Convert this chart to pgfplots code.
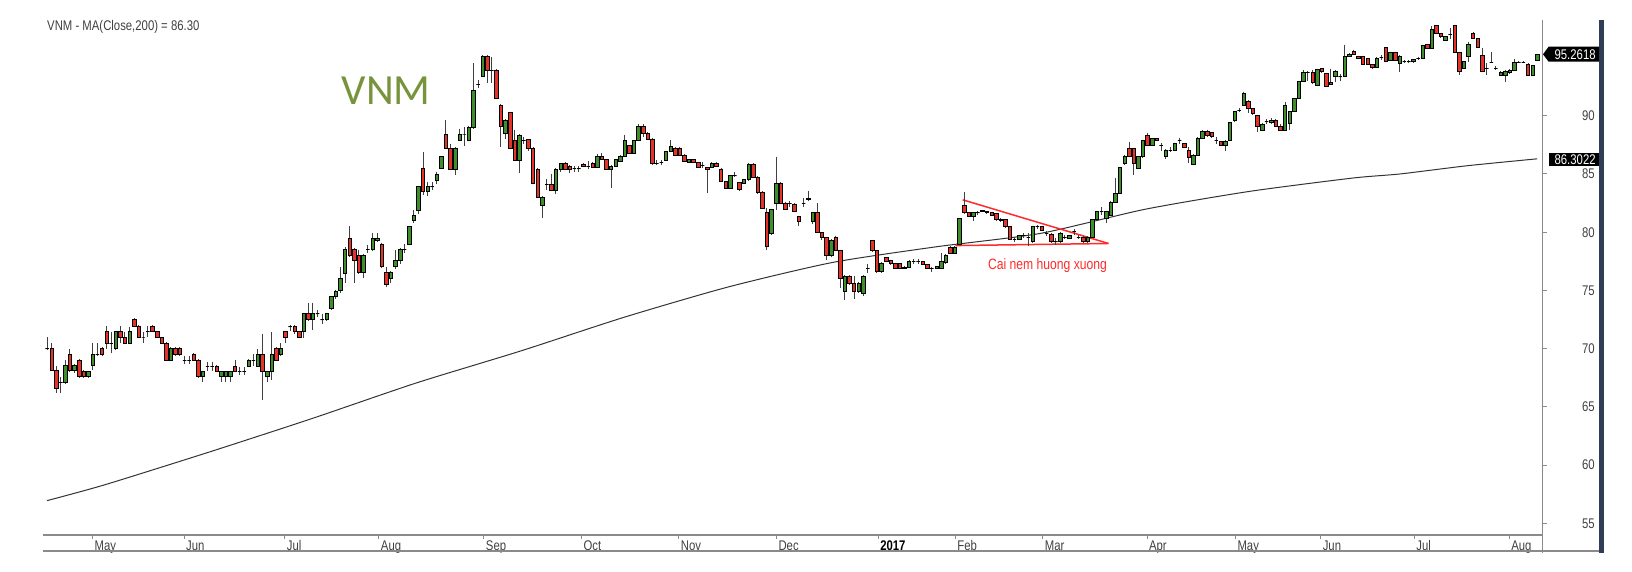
\documentclass[border=0pt]{standalone}
\usepackage{fontspec}
\setmainfont{Liberation Sans}
\newfontfamily\narrowfont[FakeStretch=0.81]{Liberation Sans}
\newfontfamily\calfont{Carlito}
\usepackage{pgfplots}
\usepackage{pgfplotstable}
\pgfplotsset{compat=1.18}

\definecolor{candleup}{HTML}{3E8E2C}
\definecolor{candledn}{HTML}{E5332A}
\definecolor{vnmgreen}{HTML}{77933C}
\definecolor{navybar}{HTML}{2F3D56}
\definecolor{axisgray}{HTML}{8A8A8A}
\definecolor{labelgray}{HTML}{404040}
\definecolor{wedgered}{HTML}{FF2B2B}

\pgfdeclareplotmark{blank}{}

% daily candles: i = trading day, o h l c
\pgfplotstableread{
i o h l c
0 70.0 71.0 69.9 70.0
1 70.0 70.45 68.1 68.1
2 68.1 68.5 66.2 66.6
3 67.15 67.6 66.2 67.15
4 67.07 69.0 67.0 68.6
5 69.5 69.95 68.0 68.1
6 68.1 68.7 67.9 68.6
7 69.0 69.1 67.5 67.6
8 68.08 68.2 67.5 67.6
9 67.6 68.1 67.5 68.08
10 68.6 70.45 68.15 69.5
11 69.5 70.45 69.4 69.5
12 70.0 70.1 69.4 69.5
13 71.45 71.94 70.0 70.45
14 70.45 71.45 69.6 70.45
15 70.0 71.5 69.9 71.45
16 71.45 71.94 70.5 70.97
17 70.97 71.4 70.4 70.5
18 70.5 71.9 70.4 71.45
19 72.5 72.6 71.9 71.94
20 71.94 72.0 70.9 70.97
21 71.0 71.45 70.5 71.0
22 71.45 71.94 70.97 71.45
23 71.94 72.0 71.4 71.45
24 71.45 71.5 70.9 70.97
25 70.97 71.0 70.4 70.5
26 70.5 70.6 68.9 69.0
27 69.0 70.1 68.9 70.0
28 70.0 70.1 69.4 69.5
29 70.0 70.1 69.4 69.5
30 69.0 69.4 68.7 69.0
31 69.0 69.4 68.7 69.0
32 69.5 69.6 68.9 69.0
33 69.0 69.1 67.5 67.6
34 67.6 68.1 67.15 68.05
35 68.5 68.85 68.1 68.5
36 68.5 68.85 68.1 68.5
37 68.5 68.6 68.0 68.05
38 67.6 68.1 67.15 68.05
39 67.6 68.1 67.15 68.05
40 67.6 68.1 67.15 68.05
41 68.5 69.0 68.0 68.05
42 68.05 68.4 67.7 68.05
43 68.05 68.4 67.7 68.05
44 68.5 69.1 68.4 69.0
45 69.0 69.5 68.5 69.0
46 68.5 70.0 68.4 69.5
47 69.5 71.3 65.6 68.05
48 67.6 68.1 67.15 68.05
49 68.05 71.45 67.3 69.5
50 70.0 70.1 68.9 69.0
51 69.5 70.45 69.4 70.0
52 71.45 71.45 70.5 70.97
53 71.9 72.0 71.5 71.9
54 71.9 72.0 71.3 71.45
55 71.45 71.5 70.9 71.0
56 71.45 73.1 70.9 73.03
57 73.03 73.9 72.4 72.52
58 72.5 73.9 71.6 73.0
59 73.0 73.3 72.7 73.0
60 72.5 73.0 72.1 72.5
61 72.5 73.1 72.4 73.0
62 73.46 74.5 73.3 74.46
63 74.46 75.0 74.3 74.9
64 75.0 77.0 74.8 76.05
65 76.5 78.7 75.6 78.5
66 79.5 80.5 77.9 78.0
67 78.5 78.6 75.6 77.55
68 78.04 78.5 76.4 76.52
69 76.52 78.1 76.04 78.04
70 78.53 78.9 78.2 78.53
71 78.53 79.95 78.4 79.47
72 79.3 79.95 79.2 79.47
73 78.98 79.1 76.9 77.03
74 76.52 77.0 75.3 75.55
75 76.05 76.7 75.6 76.52
76 77.03 78.47 76.8 77.55
77 77.55 78.6 77.3 78.53
78 78.53 78.98 78.2 78.53
79 78.98 80.5 78.9 80.47
80 81.04 81.9 80.8 81.47
81 81.9 83.9 81.6 83.9
82 85.48 86.9 83.2 83.47
83 83.47 84.3 83.1 83.9
84 83.9 84.3 83.6 83.9
85 84.48 85.2 84.1 85.0
86 85.48 86.5 85.4 86.48
87 88.43 89.63 87.1 87.2
88 87.2 87.6 85.3 85.4
89 85.4 87.3 84.9 87.2
90 87.92 88.9 87.8 88.43
91 88.43 89.0 87.4 88.43
92 87.92 89.1 87.8 89.0
93 89.0 94.5 88.9 92.17
94 92.7 93.05 92.4 92.7
95 93.35 95.2 93.3 95.1
96 95.1 95.2 92.8 93.9
97 93.9 95.0 92.8 93.9
98 93.9 94.0 91.4 91.5
99 90.92 91.0 87.35 89.05
100 88.48 89.7 88.0 89.63
101 90.26 90.3 87.1 87.2
102 87.92 88.8 86.1 86.2
103 86.2 88.4 85.05 88.35
104 87.9 88.2 87.6 87.9
105 87.95 88.0 87.0 87.2
106 87.2 87.3 84.1 84.2
107 85.4 85.5 82.9 83.0
108 82.33 83.1 81.19 83.0
109 84.13 84.6 83.6 84.13
110 84.13 85.0 83.5 83.6
111 83.6 85.5 83.3 85.4
112 85.4 85.95 85.2 85.9
113 85.9 86.0 85.3 85.4
114 85.7 85.8 85.1 85.4
115 85.45 85.7 85.2 85.45
116 85.45 85.7 85.2 85.45
117 85.85 85.9 85.6 85.65
118 85.65 86.1 85.4 85.65
119 85.9 86.0 85.5 85.6
120 85.6 86.7 85.5 86.55
121 86.55 86.8 86.2 86.25
122 86.25 86.3 85.3 85.4
123 85.4 85.8 83.77 85.7
124 85.7 86.3 85.6 86.25
125 86.1 86.6 86.0 86.55
126 86.55 88.34 86.5 87.85
127 87.48 87.5 86.7 86.77
128 86.77 87.9 86.7 87.85
129 87.85 89.29 87.8 89.1
130 89.1 89.29 88.2 88.5
131 88.5 88.6 87.9 88.0
132 88.0 88.1 85.8 85.9
133 85.9 86.2 85.75 85.9
134 86.0 86.2 85.8 86.0
135 86.2 86.95 86.1 86.92
136 86.92 87.92 86.9 87.4
137 87.2 87.3 86.6 86.63
138 87.2 87.3 86.6 86.63
139 86.63 86.7 86.0 86.1
140 85.97 86.3 85.9 86.25
141 86.25 86.3 85.9 85.97
142 85.97 86.0 85.5 85.55
143 85.75 86.0 85.5 85.75
144 85.55 85.6 83.4 85.4
145 85.6 86.0 85.5 85.9
146 85.9 86.0 85.6 85.65
147 85.4 85.5 84.3 84.35
148 84.35 84.4 83.7 83.77
149 83.77 84.9 83.7 84.85
150 84.85 85.2 84.7 84.85
151 84.25 84.3 83.5 83.68
152 84.2 84.6 84.1 84.5
153 84.5 85.9 84.4 85.85
154 85.85 85.9 84.7 84.75
155 84.75 84.8 83.3 83.4
156 83.4 83.5 82.0 82.05
157 81.75 82.05 78.47 78.75
158 79.9 82.0 79.8 81.96
159 82.48 86.48 81.9 84.2
160 84.2 84.3 82.4 82.48
161 82.48 82.6 81.9 81.96
162 82.5 82.7 82.2 82.5
163 82.4 82.5 81.7 81.76
164 81.33 81.35 80.5 80.9
165 82.5 82.95 82.2 82.5
166 82.85 83.5 82.7 82.9
167 80.9 81.7 80.7 81.67
168 81.67 82.48 79.9 79.95
169 79.95 80.0 79.3 79.6
170 79.6 79.6 77.6 78.04
171 78.04 79.4 77.9 79.33
172 79.6 79.7 78.4 78.47
173 78.47 78.5 75.18 76.04
174 74.89 76.3 74.18 76.18
175 76.18 76.3 75.5 75.6
176 75.6 76.2 74.3 74.89
177 74.89 75.7 74.8 75.6
178 74.75 76.3 74.5 76.23
179 76.9 77.3 76.5 76.9
180 79.27 79.3 78.3 78.41
181 78.41 78.5 76.5 76.6
182 76.6 77.4 76.5 77.33
183 77.84 77.9 77.4 77.46
184 77.56 77.6 77.2 77.3
185 77.3 77.35 76.85 76.9
186 77.3 77.35 76.85 76.9
187 76.9 77.1 76.8 77.0
188 77.0 77.6 76.9 77.5
189 77.5 77.7 77.3 77.5
190 77.5 77.7 77.3 77.5
191 77.5 77.55 77.15 77.2
192 77.2 77.25 76.85 76.9
193 76.9 77.05 76.55 76.9
194 76.9 77.1 76.8 77.05
195 76.9 78.18 76.8 77.5
196 77.38 78.1 77.3 78.04
197 78.7 78.8 78.1 78.18
198 78.18 78.8 78.1 78.7
199 78.98 81.2 78.9 81.19
200 82.33 83.47 81.6 81.67
201 81.7 81.75 81.3 81.33
202 81.33 81.75 81.0 81.67
203 81.67 81.8 81.5 81.67
204 81.85 81.9 81.7 81.77
205 81.77 81.8 81.6 81.67
206 81.67 81.7 81.4 81.47
207 81.6 81.65 81.0 81.1
208 81.0 81.2 80.9 81.1
209 81.1 81.15 80.4 80.47
210 80.47 80.5 79.3 79.4
211 79.4 79.6 79.2 79.4
212 79.35 79.8 79.3 79.7
213 79.7 79.9 79.5 79.7
214 79.6 79.9 78.8 79.6
215 79.2 80.5 79.1 80.47
216 80.47 80.6 80.3 80.47
217 80.47 80.5 80.1 80.2
218 79.9 80.1 79.7 79.9
219 79.85 79.9 79.1 79.2
220 79.2 79.5 78.9 79.2
221 79.2 80.0 79.1 79.9
222 79.6 79.8 79.4 79.6
223 79.45 79.8 79.4 79.75
224 80.04 80.25 79.75 80.04
225 79.6 79.8 79.4 79.6
226 79.6 79.65 79.1 79.2
227 79.2 79.65 79.1 79.6
228 79.6 81.15 79.5 81.1
229 81.1 81.8 81.0 81.76
230 81.76 82.2 81.5 81.76
231 81.2 81.8 80.77 81.76
232 81.47 82.7 81.4 82.6
233 82.6 84.62 82.5 83.34
234 83.34 85.6 83.3 85.57
235 85.9 86.6 85.8 86.48
236 87.2 87.77 86.5 86.54
237 87.2 87.25 84.9 85.9
238 85.48 86.5 85.4 86.48
239 86.48 87.95 86.4 87.9
240 88.34 88.55 87.4 87.48
241 87.48 88.1 87.4 88.05
242 88.05 88.1 87.8 87.85
243 87.48 87.7 87.0 87.48
244 86.48 87.1 86.3 87.06
245 87.06 87.3 86.9 87.06
246 87.06 87.7 87.0 87.6
247 87.9 88.1 87.6 87.9
248 87.6 87.65 87.3 87.33
249 87.06 87.33 85.9 86.45
250 85.85 86.7 85.8 86.63
251 86.63 88.15 86.6 88.1
252 88.1 88.75 88.0 88.7
253 88.7 88.8 88.2 88.3
254 88.55 88.6 88.1 88.2
255 87.9 88.2 87.6 87.9
256 87.77 87.8 87.4 87.48
257 87.48 87.9 87.0 87.77
258 87.92 89.45 87.85 89.4
259 89.63 90.4 89.5 90.35
260 90.5 90.65 90.35 90.5
261 90.92 92.06 90.85 91.92
262 91.2 91.35 90.2 90.63
263 90.63 90.7 90.1 90.2
264 90.06 90.1 88.62 89.05
265 88.77 89.35 88.7 89.29
266 89.5 89.7 89.3 89.5
267 89.43 89.8 89.3 89.63
268 89.63 89.7 89.0 89.05
269 89.05 89.3 88.7 88.77
270 88.77 91.15 88.7 90.92
271 89.35 90.4 88.8 90.35
272 90.35 91.5 90.3 91.49
273 91.49 93.0 91.4 92.98
274 92.98 93.9 92.9 93.73
275 93.73 93.85 92.95 93.73
276 93.73 93.9 92.75 92.9
277 92.63 94.05 92.55 94.0
278 94.05 94.1 93.7 93.8
279 93.64 93.7 92.45 92.5
280 92.9 94.05 92.65 92.7
281 93.35 93.9 92.9 93.84
282 93.35 93.6 93.0 93.35
283 93.35 96.1 93.3 95.07
284 95.1 95.4 95.0 95.3
285 95.5 95.6 95.2 95.27
286 95.1 95.15 94.9 94.95
287 95.07 95.1 94.35 94.4
288 94.9 94.95 94.4 94.45
289 94.4 94.45 94.0 94.2
290 94.2 95.0 94.15 94.9
291 95.0 95.2 94.8 95.0
292 95.87 95.93 94.6 94.64
293 94.73 95.5 94.7 95.45
294 95.45 95.5 94.7 94.73
295 94.5 95.2 93.78 95.07
296 94.64 94.8 94.5 94.64
297 94.64 94.8 94.5 94.64
298 94.64 94.9 94.5 94.85
299 94.93 95.0 94.8 94.93
300 94.93 96.1 94.9 96.07
301 96.13 96.2 95.7 95.79
302 95.79 97.7 95.7 97.4
303 97.73 97.8 97.0 97.07
304 97.07 97.1 96.7 96.78
305 96.5 96.85 96.4 96.78
306 97.0 97.55 96.6 97.0
307 97.73 97.78 95.35 95.45
308 95.45 95.5 93.5 93.78
309 94.07 94.7 94.0 94.64
310 95.07 96.3 94.6 96.13
311 97.07 97.15 96.6 96.64
312 96.64 96.7 95.8 95.84
313 95.22 95.8 93.8 93.84
314 94.07 94.5 93.5 94.07
315 94.6 95.47 94.5 94.6
316 94.07 94.3 93.9 94.07
317 93.5 93.8 93.4 93.73
318 93.5 93.9 92.87 93.84
319 93.73 94.0 93.6 93.92
320 93.92 94.9 93.85 94.58
321 94.58 94.7 94.5 94.58
322 94.58 94.7 94.5 94.58
323 94.4 94.5 93.45 93.5
324 93.5 94.35 93.45 94.3
325 94.75 95.3 94.7 95.26
}\vnm

% MA(Close,200)
\pgfplotstableread{
i ma
0 56.95
12.5 58.3
35.2 61.1
57.8 64.0
80.5 67.05
103.3 69.8
125.9 72.7
148.6 75.3
171.3 77.4
194.0 78.75
216.7 79.9
239.5 81.97
262.2 83.5
284.8 84.65
295.1 85.0
309.6 85.7
325 86.3
}\mavg

\begin{document}
\begin{tikzpicture}
\path[use as bounding box] (0,0) rectangle (816pt,286pt);
\begin{axis}[
  at={(21.35pt,18.5pt)}, anchor=south west,
  scale only axis, width=750pt, height=257.5pt,
  xmin=-0.94, xmax=326.2, ymin=54.0, ymax=98.22,
  axis x line*=bottom, axis y line*=right,
  axis line style={axisgray, line width=0.7pt},
  tick align=outside, major tick length=2pt,
  tick style={axisgray, line width=0.5pt},
  ytick={55,60,...,90},
  yticklabel=\empty,
  xtick={9.94,29.9,51.9,72.4,95.3,116.6,137.8,159.1,181.3,198.1,217.2,239.9,259.2,277.8,298.2,318.9},
  xticklabels={May,Jun,Jul,Aug,Sep,Oct,Nov,Dec,\textbf{\color{black}2017},Feb,Mar,Apr,May,Jun,Jul,Aug},
  xticklabel style={anchor=north west, inner sep=0.5pt, xshift=0.3pt, font=\narrowfont\fontsize{7}{8}\selectfont, text=labelgray},
  clip=false,
]
% moving average
\addplot[black!80, line width=0.5pt, smooth, tension=0.4, mark=none] table[x=i, y=ma] {\mavg};

% candles
\addplot[
  only marks, scatter, mark=blank,
  visualization depends on={\thisrow{o} \as \vo},
  visualization depends on={\thisrow{h} \as \vh},
  visualization depends on={\thisrow{l} \as \vl},
  visualization depends on={\thisrow{c} \as \vc},
  scatter/@pre marker code/.code={%
    \pgfmathsetmacro{\cdhi}{\vh-\vc}%
    \pgfmathsetmacro{\cdlo}{\vl-\vc}%
    \pgfmathsetmacro{\cdop}{\vo-\vc}%
    \pgfmathtruncatemacro{\isdn}{\vo>\vc}%
    \ifnum\isdn=1 \def\cfill{candledn}\else\def\cfill{candleup}\fi
    \draw[black!75, line width=0.5pt] (axis direction cs:0,\cdhi) -- (axis direction cs:0,\cdlo);
    \filldraw[draw=black, fill=\cfill, line width=0.3pt]
      (axis direction cs:-0.38,0) rectangle (axis direction cs:0.38,\cdop);
  },
  scatter/@post marker code/.code={},
] table[x=i, y=c] {\vnm};

% falling wedge
\draw[wedgered, line width=0.75pt] (axis cs:199.7,82.78) -- (axis cs:231.5,79.03);
\draw[wedgered, line width=0.75pt] (axis cs:198.1,78.85) -- (axis cs:231.5,79.03);
\node[text=wedgered, font=\narrowfont\fontsize{7.5}{9}\selectfont, inner sep=0pt] at (axis cs:218.2,77.15) {Cai nem huong xuong};
\end{axis}

% price scale labels on the right, right aligned
\foreach \v/\yy in {55/24.32,60/53.44,65/82.55,70/111.67,75/140.78,80/169.90,85/199.01,90/228.13}
  \node[anchor=east, inner sep=0pt, text=labelgray, font=\narrowfont\fontsize{7}{8}\selectfont] at (797.5pt,\yy pt) {\v};

% date strip and right frame
\draw[axisgray, line width=0.7pt] (21.35pt,10.5pt) -- (799.65pt,10.5pt);
\draw[axisgray, line width=0.7pt] (771.35pt,18.5pt) -- (771.35pt,9.5pt);
\fill[navybar] (799.65pt,9.5pt) rectangle (802pt,276pt);

% last-value boxes
\fill[black] (771.5pt,258.85pt) -- (774.3pt,262.65pt) -- (799.5pt,262.65pt) -- (799.5pt,255.15pt) -- (774.3pt,255.15pt) -- cycle;
\node[anchor=east, text=white, inner sep=0pt, font=\narrowfont\fontsize{7}{8}\selectfont] at (798pt,258.85pt) {95.2618};
\fill[black] (774.65pt,203.15pt) rectangle (799.5pt,209.35pt);
\node[anchor=east, text=white, inner sep=0pt, font=\narrowfont\fontsize{7}{8}\selectfont] at (798pt,206.25pt) {86.3022};

% titles
\node[anchor=west, inner sep=0pt, text=labelgray, font=\narrowfont\fontsize{7}{8}\selectfont] at (23.4pt,272.5pt) {VNM - MA(Close,200) = 86.30};
\node[anchor=west, inner sep=0pt, text=vnmgreen, font=\calfont\fontsize{21.5}{24}\selectfont] at (170.7pt,240.5pt) {VNM};
\end{tikzpicture}
\end{document}
